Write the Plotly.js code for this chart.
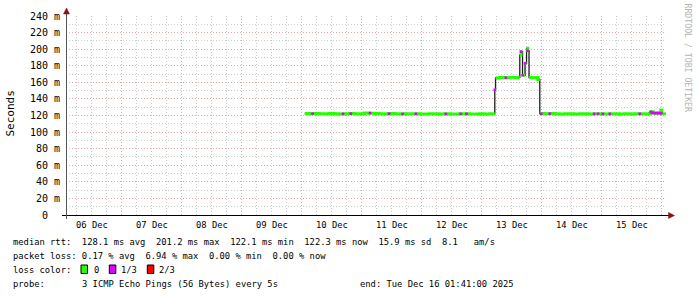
<!DOCTYPE html>
<html>
<head>
<meta charset="utf-8">
<script src="https://cdn.plot.ly/plotly-3.0.1.min.js"></script>
<style>html,body{margin:0;padding:0;background:#fff;}#chart{width:697px;height:297px;}</style>
</head>
<body>
<div id="chart"></div>
<script>
// ---------------- data ----------------
// time as hours after 2025-12-10 00:00, median RTT in ms
const medianHours = [1.2, 3, 5, 7, 9, 11, 13, 15, 17, 19, 21, 23, 25, 27, 29, 31, 33, 35, 37, 39, 41, 43, 45, 47, 49, 51, 53, 55, 57, 59, 61, 63, 65, 67, 69, 71, 73, 75, 77.2,
  77.5, 79, 81, 83, 85, 86.5, 87.2, 87.7, 88.3, 89.3, 89.9, 90.4, 90.9, 92, 93.5, 94.4,
  95.2, 97, 99, 101, 103, 105, 107, 109, 111, 113, 115, 117, 119, 121, 123, 125, 127, 129, 131, 133, 135, 137, 139, 139.6, 140.5, 141.5, 142.5, 143.6, 144, 145.5];
const medianMs = [122.4, 122.2, 122.3, 122.0, 122.2, 122.4, 122.1, 121.9, 122.2, 122.3, 122.0, 122.2, 123.0, 122.8, 122.3, 122.1, 122.0, 122.3, 122.2, 121.9, 122.1, 122.2, 122.0, 121.8, 121.9, 122.0, 122.1, 121.9, 122.0, 121.8, 121.9, 122.0, 122.1, 121.9, 121.8, 122.0, 121.9, 122.0, 151.0,
  165.3, 165.8, 165.5, 166.2, 165.6, 166.0, 193.0, 197.0, 168.5, 183.0, 201.0, 198.0, 165.8, 165.5, 165.9, 163.5,
  122.4, 122.0, 122.3, 122.1, 121.9, 122.0, 122.2, 121.9, 122.0, 122.1, 121.8, 122.0, 122.1, 121.9, 122.0, 122.2, 121.9, 122.0, 121.8, 122.0, 122.1, 121.9, 122.3, 124.5, 123.0, 122.8, 122.9, 126.5, 122.2, 122.3];
// samples with 1/3 packet loss
const lossHours = [4.3, 16.5, 19.6, 27.3, 34.9, 40.3, 45.6, 57.6, 63.6, 65.9, 77.2, 81.6, 87.7, 88.3, 89.3, 90.4, 95.8, 99.2, 116.9, 118.5, 120.4, 123.2, 135.2, 139.6, 140.2, 140.8, 141.4, 142.0, 142.6, 143.2, 143.8];
const lossMs = [122.3, 122.0, 122.2, 122.9, 122.2, 122.0, 122.0, 121.9, 122.0, 122.0, 151.0, 165.5, 197.0, 168.5, 183.0, 198.0, 122.1, 122.2, 122.0, 122.1, 121.9, 122.0, 122.0, 124.3, 123.4, 123.0, 122.8, 122.9, 122.9, 122.9, 122.8];

const dayLabels = ['06 Dec', '07 Dec', '08 Dec', '09 Dec', '10 Dec', '11 Dec', '12 Dec', '13 Dec', '14 Dec', '15 Dec'];
const dayNoon = ['2025-12-06 12:00', '2025-12-07 12:00', '2025-12-08 12:00', '2025-12-09 12:00', '2025-12-10 12:00',
  '2025-12-11 12:00', '2025-12-12 12:00', '2025-12-13 12:00', '2025-12-14 12:00', '2025-12-15 12:00'];
const yTickVals = [0, 20, 40, 60, 80, 100, 120, 140, 160, 180, 200, 220, 240];
const yTickText = ['0\u00a0\u00a0', '20 m', '40 m', '60 m', '80 m', '100 m', '120 m', '140 m', '160 m', '180 m', '200 m', '220 m', '240 m'];

const legendLines = [
  'median rtt:  128.1 ms avg  201.2 ms max  122.1 ms min  122.3 ms now  15.9 ms sd  8.1   am/s',
  'packet loss: 0.17 % avg  6.94 % max  0.00 % min  0.00 % now'
];
const lossColorNames = ['0', '1/3', '2/3'];
const lossColors = ['#26ff00', '#e000ff', '#ff0000'];
const probeText = '3 ICMP Echo Pings (56 Bytes) every 5s';
const endText = 'end: Tue Dec 16 01:41:00 2025';
const xStart = '2025-12-06 01:41';
const xEnd = '2025-12-16 01:41';

// ---------------- helpers ----------------
const BASE = Date.UTC(2025, 11, 10);
function hToDate(h) { return new Date(BASE + h * 3600e3).toISOString().slice(0, 19).replace('T', ' '); }
const L = 66, T = 16, W = 600, H = 199;
function px(x) { return (x - L) / W; }
function py(y) { return (T + H - y) / H; }
const MONO = 'DejaVu Sans Mono, monospace';
const nb = s => s.replace(/ /g, '\u00a0');

const mx = medianHours.map(hToDate);
// green line: break at big jumps so the vertical is drawn by the thin dark line only
const gx = [], gy = [];
for (let i = 0; i < mx.length; i++) {
  gx.push(mx[i]); gy.push(medianMs[i]);
  if (i + 1 < mx.length && Math.abs(medianMs[i + 1] - medianMs[i]) > 5) {
    gx.push(mx[i + 1]); gy.push(medianMs[i]);
    gx.push(null); gy.push(null);
  }
}

const traces = [
  { x: mx, y: medianMs, type: 'scatter', mode: 'lines', line: { color: '#202020', width: 1.3, shape: 'hv' }, hoverinfo: 'skip' },
  { x: gx, y: gy, type: 'scatter', mode: 'lines', line: { color: lossColors[0], width: 3, shape: 'hv' }, connectgaps: false, hoverinfo: 'skip' },
  { x: lossHours.map(hToDate), y: lossMs, type: 'scatter', mode: 'markers', marker: { color: lossColors[1], symbol: 'square', size: 2.6, line: { width: 0 } }, hoverinfo: 'skip' }
];

const annotations = [];
const shapes = [];
function txt(x, y, text, opts) {
  annotations.push(Object.assign({ xref: 'paper', yref: 'paper', x: px(x), y: py(y), text: nb(text), showarrow: false,
    xanchor: 'left', yanchor: 'middle', borderpad: 0, font: { family: MONO, size: 8.8, color: '#000' } }, opts || {}));
}
// day labels placed through the x scale
dayNoon.forEach((d, i) => annotations.push({ xref: 'x', yref: 'paper', x: d, y: py(224.5), text: nb(dayLabels[i]), showarrow: false,
  xanchor: 'center', yanchor: 'middle', borderpad: 0, font: { family: MONO, size: 8.8, color: '#000' } }));

txt(12, 241.8, legendLines[0]);
txt(12, 255.8, legendLines[1]);
txt(12, 269.6, 'loss color:');
const boxX = [81, 109.3, 147.3], labX = [92.7, 120, 158.3];
lossColorNames.forEach((n, i) => {
  shapes.push({ type: 'rect', xref: 'paper', yref: 'paper', x0: px(boxX[i]), x1: px(boxX[i] + 6.5), y0: py(273.5), y1: py(265), fillcolor: lossColors[i], line: { color: '#000', width: 1 } });
  txt(labX[i], 269.6, n);
});
txt(12, 283.6, 'probe:');
txt(81, 283.6, probeText);
txt(359, 283.6, endText);
// y axis title
annotations.push({ xref: 'paper', yref: 'paper', x: px(10), y: py(113.5), text: 'Seconds', textangle: -90, showarrow: false,
  xanchor: 'center', yanchor: 'middle', font: { family: MONO, size: 11, color: '#000' } });
// watermark
annotations.push({ xref: 'paper', yref: 'paper', x: px(687.5), y: py(58), text: nb('RRDTOOL / TOBI OETIKER'), textangle: 90, showarrow: false,
  xanchor: 'center', yanchor: 'middle', font: { family: MONO, size: 8.2, color: '#b4b4b4' } });

// axis lines with arrows
shapes.push({ type: 'line', xref: 'paper', yref: 'paper', x0: px(62), x1: px(670), y0: py(215.5), y1: py(215.5), line: { color: '#000', width: 1 }, layer: 'above' });
shapes.push({ type: 'line', xref: 'paper', yref: 'paper', x0: px(66.5), x1: px(66.5), y0: py(219), y1: py(12), line: { color: '#555', width: 1 }, layer: 'above' });
shapes.push({ type: 'path', xref: 'paper', yref: 'paper', layer: 'above',
  path: `M ${px(63.5)} ${py(14)} L ${px(69.5)} ${py(14)} L ${px(66.5)} ${py(8)} Z`, fillcolor: '#8b1010', line: { color: '#8b1010', width: 0.5 } });
shapes.push({ type: 'path', xref: 'paper', yref: 'paper', layer: 'above',
  path: `M ${px(668.5)} ${py(212.5)} L ${px(668.5)} ${py(218.5)} L ${px(674.5)} ${py(215.5)} Z`, fillcolor: '#8b1010', line: { color: '#8b1010', width: 0.5 } });

const layout = {
  width: 697, height: 297,
  margin: { l: L, r: 697 - L - W, t: T, b: 297 - T - H, pad: 0 },
  paper_bgcolor: '#ffffff', plot_bgcolor: '#ffffff',
  showlegend: false,
  xaxis: {
    type: 'date', range: [xStart, xEnd], tick0: '2025-12-06', dtick: 86400000,
    showticklabels: false, ticks: '', showline: false, zeroline: false,
    showgrid: true, gridcolor: '#e6a8a8', gridwidth: 1, griddash: '1px,2px',
    minor: { tick0: '2025-12-06', dtick: 21600000, showgrid: true, gridcolor: '#cccccc', gridwidth: 1, griddash: '1px,2px' },
    fixedrange: true
  },
  yaxis: {
    range: [0, 240], tickmode: 'array', tickvals: yTickVals, ticktext: yTickText,
    tickfont: { family: MONO, size: 10, color: '#000' }, ticks: '', ticklabelstandoff: 5,
    showline: false, zeroline: false,
    showgrid: true, gridcolor: '#e6a8a8', gridwidth: 1, griddash: '1px,2px',
    minor: { dtick: 10, tick0: 0, showgrid: true, gridcolor: '#cccccc', gridwidth: 1, griddash: '1px,2px' },
    fixedrange: true
  },
  annotations: annotations,
  shapes: shapes
};

Plotly.newPlot('chart', traces, layout, { staticPlot: true, displayModeBar: false });
</script>
</body>
</html>
